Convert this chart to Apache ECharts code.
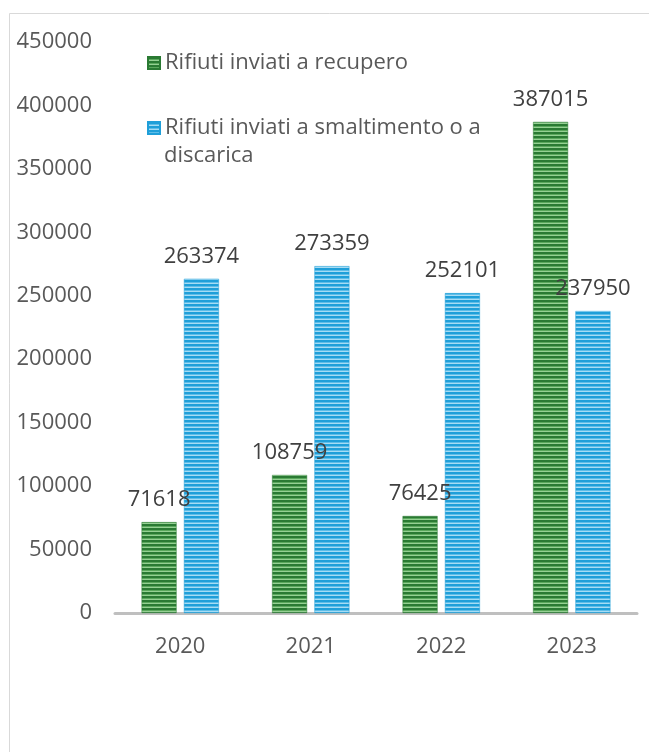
<!DOCTYPE html>
<html><head><meta charset="utf-8">
<script src="https://cdn.jsdelivr.net/npm/echarts@6/dist/echarts.min.js"></script>
<style>html,body{margin:0;padding:0;background:#fff}#c{width:649px;height:752px}</style>
</head><body><div id="c"></div>
<script>
const categories = ['2020', '2021', '2022', '2023'];
const recupero = [71618, 108759, 76425, 387015];
const smaltimento = [263374, 273359, 252101, 237950];
const seriesNames = ['Rifiuti inviati a recupero', 'Rifiuti inviati a smaltimento o a discarica'];
const legendLines2 = ['Rifiuti inviati a smaltimento o a', 'discarica'];
const yTicks = { min: 0, max: 450000, interval: 50000 };

function stripe(dark, mid, light) {
  const c = document.createElement('canvas');
  c.width = 4; c.height = 4;
  const g = c.getContext('2d');
  g.fillStyle = dark; g.fillRect(0, 0, 4, 2);
  g.fillStyle = mid; g.fillRect(0, 2, 4, 1);
  g.fillStyle = light; g.fillRect(0, 3, 4, 1);
  return { image: c, repeat: 'repeat' };
}
const greenFill = stripe('#2a7a33', '#5aa85c', '#95d093');
const blueFill = stripe('#1f9fd9', '#5ebde8', '#a6dcf4');

const FONT = 'Open Sans';
const FS = 22;
const chart = echarts.init(document.getElementById('c'), null, { renderer: 'canvas' });
chart.setOption({
  backgroundColor: '#fff',
  animation: false,
  textStyle: { fontFamily: FONT },
  graphic: [{
    type: 'rect', shape: { x: 9.5, y: 13.5, width: 800, height: 900 },
    style: { fill: 'none', stroke: '#d9d9d9', lineWidth: 1 }, silent: true
  }, {
    type: 'text', left: 164, top: 145,
    style: { text: legendLines2[1], font: FS + 'px "' + FONT + '"', fill: '#595959' }
  }],
  grid: { left: 115, right: 12, top: 42, bottom: 139 },
  legend: [{
    left: 147, top: 49, itemWidth: 12, itemHeight: 12, padding: 0,
    icon: 'rect',
    data: [seriesNames[0]],
    textStyle: { fontFamily: FONT, fontSize: FS, color: '#595959', lineHeight: 28 }
  }, {
    left: 147, top: 114, itemWidth: 12, itemHeight: 12, padding: 0,
    icon: 'rect',
    data: [seriesNames[1]],
    formatter: () => legendLines2[0],
    textStyle: { fontFamily: FONT, fontSize: FS, color: '#595959', lineHeight: 28 }
  }],
  xAxis: {
    type: 'category', data: categories,
    axisLine: { lineStyle: { color: '#bfbfbf', width: 3 } },
    axisTick: { show: false },
    axisLabel: { margin: 23, fontFamily: FONT, fontSize: FS, color: '#595959' }
  },
  yAxis: {
    type: 'value', min: yTicks.min, max: yTicks.max, interval: yTicks.interval,
    axisLine: { show: false }, axisTick: { show: false },
    splitLine: { show: false },
    axisLabel: { margin: 23, fontFamily: FONT, fontSize: FS, color: '#595959', formatter: v => String(v) }
  },
  series: [{
    name: seriesNames[0], type: 'bar', data: recupero,
    barWidth: 35, barGap: '21%',
    itemStyle: { color: greenFill, borderColor: '#2a7a33', borderWidth: 0.5 },
    label: { show: true, position: 'top', distance: 11, fontFamily: FONT, fontSize: FS, color: '#404040' }
  }, {
    name: seriesNames[1], type: 'bar', data: smaltimento,
    barWidth: 35,
    itemStyle: { color: blueFill, borderColor: '#1f9fd9', borderWidth: 0.5 },
    label: { show: true, position: 'top', distance: 11, fontFamily: FONT, fontSize: FS, color: '#404040' }
  }]
});
</script></body></html>
